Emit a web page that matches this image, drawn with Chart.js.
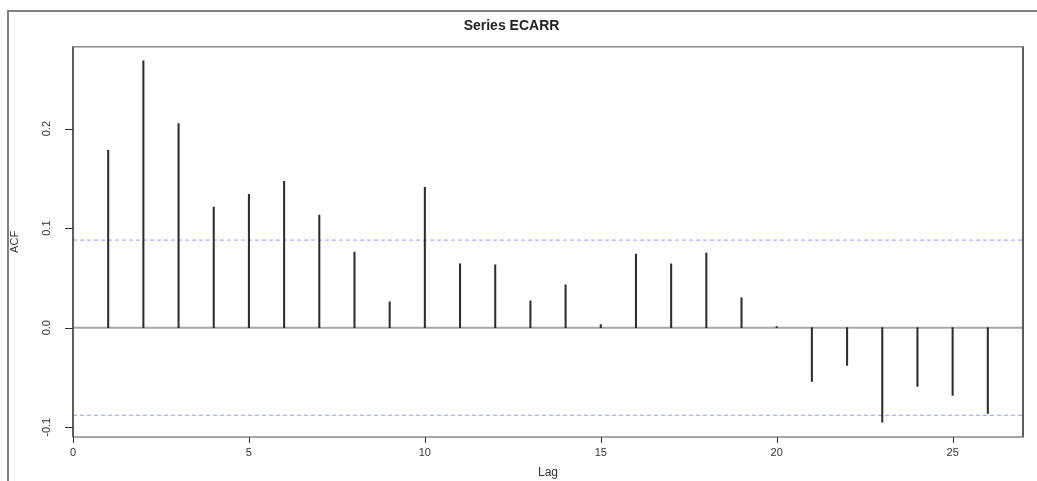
<!DOCTYPE html>
<html>
<head>
<meta charset="utf-8">
<title>Series ECARR</title>
<script src="https://cdn.jsdelivr.net/npm/chart.js@4.4.1/dist/chart.umd.min.js"></script>
<style>
  html, body { margin: 0; padding: 0; background: #fff; }
  #wrap { position: relative; width: 1037px; height: 481px; overflow: hidden; }
  #frame {
    position: absolute; left: 7px; top: 10px; width: 1100px; height: 600px;
    border-left: 2px solid #808080; border-top: 2px solid #808080;
  }
  #acfChart { position: absolute; left: 0; top: 0; }
</style>
</head>
<body>
<div id="wrap">
  <div id="frame"></div>
  <canvas id="acfChart" width="1037" height="481"></canvas>
</div>
<script>
// autocorrelation per lag
const lags = [1, 2, 3, 4, 5, 6, 7, 8, 9, 10, 11, 12, 13, 14, 15, 16, 17, 18, 19, 20, 21, 22, 23, 24, 25, 26];
const acfValues = [0.178, 0.268, 0.205, 0.121, 0.134, 0.147, 0.113, 0.076, 0.026, 0.141,
                   0.064, 0.063, 0.027, 0.043, 0.003, 0.074, 0.064, 0.075, 0.030, 0.001,
                   -0.054, -0.038, -0.095, -0.059, -0.068, -0.086];
// significance bound (+/-)
const ciBound = 0.088;
const xRange = [0, 27];
const xTicks = [0, 5, 10, 15, 20, 25];
const yTicks = [-0.1, 0.0, 0.1, 0.2];

const fontFamily = '"Liberation Sans", Arial, sans-serif';

// box around the plot, tick marks and rotated y tick labels
const rStyle = {
    id: 'rStyle',
    afterDraw(chart) {
        const { ctx, chartArea: a, scales } = chart;
        ctx.save();
        ctx.lineWidth = 1.5;
        ctx.strokeStyle = '#8a8a8a';
        ctx.strokeRect(a.left, a.top, a.right - a.left, a.bottom - a.top);
        ctx.strokeStyle = '#444';
        ctx.beginPath();
        ctx.moveTo(a.left, a.top);
        ctx.lineTo(a.left, a.bottom);
        ctx.moveTo(a.right, a.top);
        ctx.lineTo(a.right, a.bottom);
        ctx.stroke();

        ctx.strokeStyle = '#333';
        ctx.lineWidth = 1;
        ctx.beginPath();
        xTicks.forEach(v => {
            const x = Math.round(scales.x.getPixelForValue(v)) + 0.5;
            ctx.moveTo(x, a.bottom);
            ctx.lineTo(x, a.bottom + 6);
        });
        yTicks.forEach(v => {
            const y = Math.round(scales.y.getPixelForValue(v)) + 0.5;
            ctx.moveTo(a.left, y);
            ctx.lineTo(a.left - 8, y);
        });
        ctx.stroke();

        ctx.fillStyle = '#333';
        ctx.font = '11px ' + fontFamily;
        ctx.textAlign = 'center';
        ctx.textBaseline = 'middle';
        yTicks.forEach(v => {
            const y = scales.y.getPixelForValue(v);
            ctx.save();
            ctx.translate(47, y);
            ctx.rotate(-Math.PI / 2);
            ctx.fillText(v.toFixed(1), 0, 0);
            ctx.restore();
        });
        ctx.restore();
    }
};

const ctx = document.getElementById('acfChart').getContext('2d');
new Chart(ctx, {
    type: 'bar',
    data: {
        datasets: [
            {
                type: 'line',
                data: xRange.map(x => ({ x: x, y: 0 })),
                borderColor: '#a8a8a8',
                borderWidth: 2,
                pointRadius: 0,
                order: 3
            },
            {
                type: 'line',
                data: xRange.map(x => ({ x: x, y: ciBound })),
                borderColor: '#9a9af0',
                borderWidth: 1,
                borderDash: [4, 3],
                pointRadius: 0,
                order: 2
            },
            {
                type: 'line',
                data: xRange.map(x => ({ x: x, y: -ciBound })),
                borderColor: '#9a9af0',
                borderWidth: 1,
                borderDash: [4, 3],
                pointRadius: 0,
                order: 2
            },
            {
                label: 'ACF',
                data: lags.map((l, i) => ({ x: l, y: acfValues[i] })),
                backgroundColor: '#2e2e2e',
                borderWidth: 0,
                barThickness: 1.4,
                order: 1
            }
        ]
    },
    options: {
        responsive: false,
        animation: false,
        layout: { padding: { left: 0, right: 14, top: 0, bottom: 0 } },
        plugins: {
            legend: { display: false },
            tooltip: { enabled: false },
            title: {
                display: true,
                text: 'Series ECARR',
                color: '#222',
                font: { family: fontFamily, size: 14, weight: 'bold' },
                padding: { top: 18, bottom: 12 }
            }
        },
        scales: {
            x: {
                type: 'linear',
                offset: false,
                min: xRange[0],
                max: xRange[1],
                afterBuildTicks: scale => { scale.ticks = xTicks.map(v => ({ value: v })); },
                afterFit: scale => { scale.height = 44; },
                border: { display: false },
                grid: { display: false, offset: false, tickLength: 6 },
                ticks: {
                    color: '#333',
                    font: { family: fontFamily, size: 11 },
                    padding: 3,
                    maxRotation: 0,
                    callback: v => String(v)
                },
                title: {
                    display: true,
                    text: 'Lag',
                    color: '#333',
                    font: { family: fontFamily, size: 12 },
                    padding: { top: 0, bottom: 1 }
                }
            },
            y: {
                min: -0.1098,
                max: 0.2821,
                afterBuildTicks: scale => { scale.ticks = yTicks.map(v => ({ value: v })); },
                afterFit: scale => { scale.width = 73; },
                border: { display: false },
                grid: { display: false },
                ticks: { display: false },
                title: {
                    display: true,
                    text: 'ACF',
                    color: '#333',
                    font: { family: fontFamily, size: 11 },
                    padding: { top: 8, bottom: 0 }
                }
            }
        }
    },
    plugins: [rStyle]
});
</script>
</body>
</html>
